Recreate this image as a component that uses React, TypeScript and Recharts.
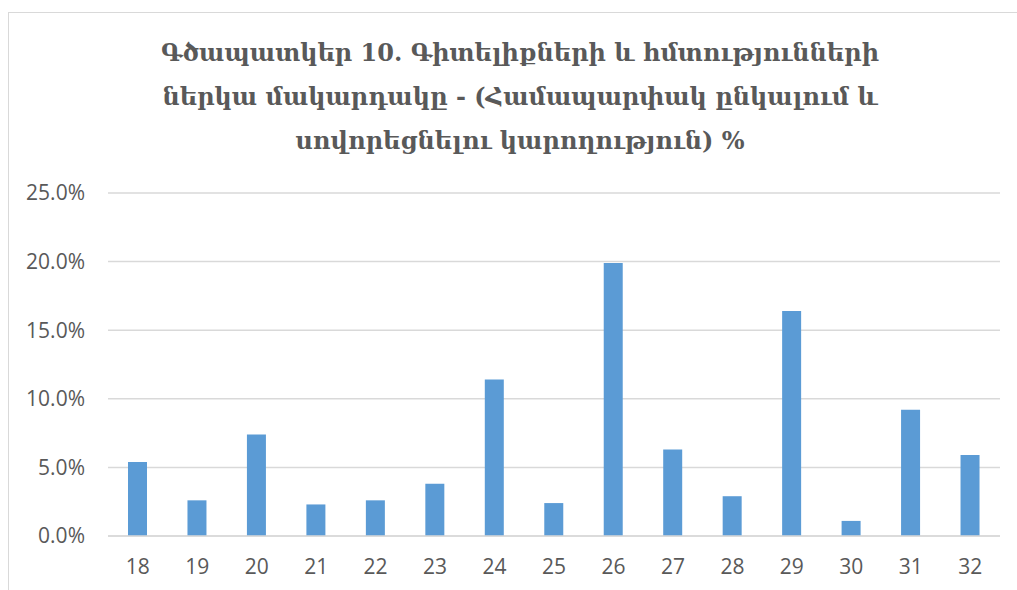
import React from 'react';
import { BarChart, Bar, XAxis, YAxis, CartesianGrid } from 'recharts';

const BLUE = '#5b9bd5';
const GRID = '#d9d9d9';
const TEXT = '#595959';

const ages = ['18', '19', '20', '21', '22', '23', '24', '25', '26', '27', '28', '29', '30', '31', '32'];
const shares = [5.4, 2.6, 7.4, 2.3, 2.6, 3.8, 11.4, 2.4, 19.9, 6.3, 2.9, 16.4, 1.1, 9.2, 5.9];
const yTicks = [0, 5, 10, 15, 20, 25];
const titleLines = [
  'Գծապատկեր 10. Գիտելիքների և հմտությունների',
  'ներկա մակարդակը - (Համապարփակ ընկալում և',
  'սովորեցնելու կարողություն) %',
];

const data = ages.map((age, i) => ({ age, share: shares[i] }));

const tickFont = { fill: TEXT, fontSize: 21, fontFamily: '"Open Sans", sans-serif' };

export default function App() {
  return (
    <div
      style={{
        position: 'fixed',
        left: 8,
        top: 12,
        width: 1009,
        height: 578,
        overflow: 'hidden',
        background: '#fff',
      }}
    >
      <div
        style={{
          position: 'absolute',
          left: 0,
          top: 0,
          width: 1030,
          height: 620,
          border: `1px solid ${GRID}`,
          boxSizing: 'border-box',
        }}
      />
      <div
        style={{
          position: 'absolute',
          left: 0,
          top: 19,
          width: 1024,
          textAlign: 'center',
          fontFamily: '"DejaVu Serif", serif',
          fontWeight: 'bold',
          fontSize: 24,
          lineHeight: '44px',
          color: TEXT,
        }}
      >
        {titleLines.map((t) => (
          <div key={t}>{t}</div>
        ))}
      </div>
      <div style={{ position: 'absolute', left: 0, top: 0 }}>
        <BarChart
          width={1009}
          height={578}
          data={data}
          margin={{ top: 181, right: 17, left: 0, bottom: 24 }}
        >
          <CartesianGrid vertical={false} stroke={GRID} strokeWidth={1.5} />
          <XAxis
            dataKey="age"
            height={30}
            axisLine={{ stroke: GRID, strokeWidth: 1.5 }}
            tickLine={false}
            tickSize={0}
            tickMargin={23}
            tick={tickFont}
          />
          <YAxis
            width={100}
            domain={[0, 25]}
            ticks={yTicks}
            axisLine={false}
            tickLine={false}
            tickSize={0}
            tickMargin={23}
            tickFormatter={(v: number) => v.toFixed(1) + '%'}
            tick={tickFont}
          />
          <Bar dataKey="share" fill={BLUE} barSize={19} isAnimationActive={false} />
        </BarChart>
      </div>
    </div>
  );
}
